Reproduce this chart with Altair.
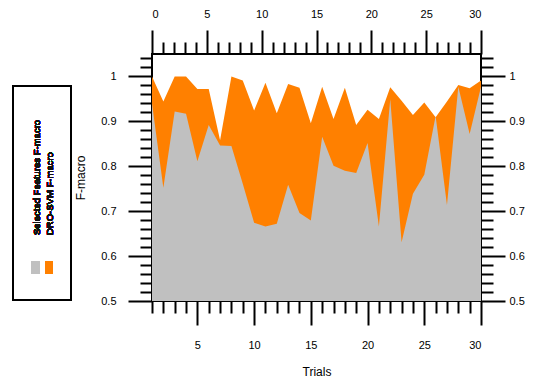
import altair as alt
import pandas as pd

trials = list(range(1, 31))
selected = [0.940, 0.752, 0.922, 0.917, 0.811, 0.892, 0.846, 0.845, 0.761, 0.674,
            0.666, 0.672, 0.759, 0.696, 0.679, 0.866, 0.801, 0.790, 0.785, 0.852,
            0.666, 0.949, 0.631, 0.739, 0.781, 0.912, 0.714, 0.977, 0.872, 0.977]
dro = [1.000, 0.944, 1.000, 1.000, 0.972, 0.972, 0.858, 1.000, 0.991, 0.924,
       0.986, 0.918, 0.983, 0.975, 0.896, 0.977, 0.905, 0.975, 0.892, 0.926,
       0.905, 0.976, 0.946, 0.914, 0.942, 0.909, 0.944, 0.981, 0.974, 0.991]

legend_labels = ["Selected Features F-macro", "DRO-SVM F-macro"]
legend_colors = ["#C0C0C0", "#FF8000"]

top_ticks = list(range(0, 31))
y_ticks = [round(0.5 + 0.02 * i, 2) for i in range(28)]

df = pd.DataFrame({"Trial": trials, "Selected": selected, "DRO": dro})

FONT = "Liberation Sans"
major5 = "datum.value % 5 === 0"
major01 = "abs(datum.value * 10 - round(datum.value * 10)) < 0.000001"


def tick_size(test):
    return {"condition": {"test": test, "value": 24}, "value": 12}


x_bottom = alt.Axis(orient="bottom", values=trials, tickSize=tick_size(major5),
                    labelExpr=f"{major5} ? datum.label : ''", labelPadding=14,
                    title="Trials", titleY=70, titleBaseline="middle")
x_top = alt.Axis(orient="top", values=top_ticks, tickSize=tick_size(major5),
                 labelExpr=f"{major5} ? datum.label : ''", labelPadding=11, title=None)
y_left = alt.Axis(orient="left", values=y_ticks, tickSize=tick_size(major01),
                  labelExpr=f"{major01} ? format(datum.value, '.1~f') : ''", labelPadding=12,
                  title="F-macro", titlePadding=13)
y_right = alt.Axis(orient="right", values=y_ticks, tickSize=tick_size(major01),
                   labelExpr=f"{major01} ? format(datum.value, '.1~f') : ''", labelPadding=4,
                   title=None)

xs = alt.Scale(domain=[1, 30], nice=False, zero=False)
ys = alt.Scale(domain=[0.5, 1.05], nice=False, zero=False)

orange = alt.Chart(df).mark_area(color=legend_colors[1], opacity=1).encode(
    x=alt.X("Trial:Q", scale=xs, axis=x_bottom),
    y=alt.Y("DRO:Q", scale=ys, axis=y_left),
    y2=alt.datum(0.5),
)
gray = alt.Chart(df).mark_area(color=legend_colors[0], opacity=1).encode(
    x=alt.X("Trial:Q", scale=xs, axis=x_bottom),
    y=alt.Y("Selected:Q", scale=ys, axis=y_left),
    y2=alt.datum(0.5),
)
inner = alt.layer(orange, gray)

axes2 = alt.Chart(df).mark_point(opacity=0).encode(
    x=alt.X("Trial:Q", scale=alt.Scale(domain=[0, 30], nice=False, zero=False), axis=x_top),
    y=alt.Y("DRO:Q", scale=alt.Scale(domain=[0.5, 1.05], nice=False, zero=False), axis=y_right),
)

box = alt.Chart(df).mark_rect(fillOpacity=0, stroke="black", strokeWidth=2).encode(
    x=alt.value(-139), x2=alt.value(-81), y=alt.value(32), y2=alt.value(246)
)
t1 = alt.Chart(df).mark_text(angle=270, align="left", baseline="middle", fontSize=9.5,
                             font=FONT, color="#111111").encode(
    x=alt.value(-115.3), y=alt.value(181), text=alt.value(legend_labels[0])
)
t2 = alt.Chart(df).mark_text(angle=270, align="left", baseline="middle", fontSize=9.5,
                             font=FONT, color="#111111").encode(
    x=alt.value(-102), y=alt.value(181), text=alt.value(legend_labels[1])
)
s1 = alt.Chart(df).mark_rect(color=legend_colors[0]).encode(
    x=alt.value(-120.3), x2=alt.value(-112.7), y=alt.value(207), y2=alt.value(220)
)
s2 = alt.Chart(df).mark_rect(color=legend_colors[1]).encode(
    x=alt.value(-107), x2=alt.value(-99.3), y=alt.value(207), y2=alt.value(220)
)

chart = alt.layer(inner, axes2, box, t1, t2, s1, s2).resolve_scale(
    x="independent", y="independent"
).properties(
    width=329, height=247,
    autosize=alt.AutoSizeParams(type="none"),
    padding={"left": 144, "top": 46, "right": 45, "bottom": 76},
).configure_view(
    stroke="black", strokeWidth=2
).configure_axis(
    domain=False, grid=False, tickColor="black", tickWidth=2,
    labelFont=FONT, labelFontSize=11, labelColor="black",
    titleFont=FONT, titleFontSize=12, titleFontWeight="normal", titleColor="black",
)

chart.save("out.html", embed_options={"renderer": "svg", "actions": False})
